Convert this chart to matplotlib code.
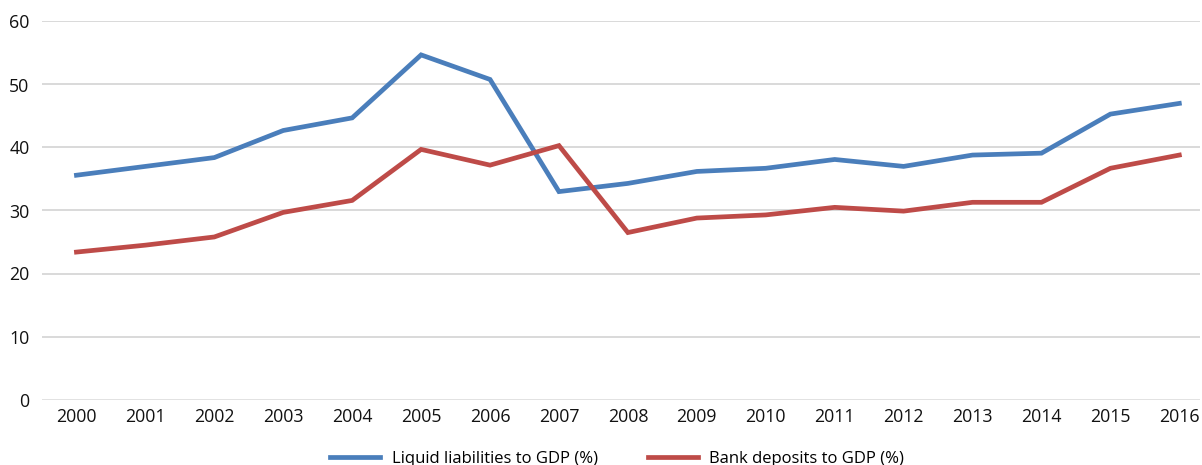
import matplotlib
matplotlib.use("Agg")
import matplotlib.pyplot as plt

years = [str(y) for y in range(2000, 2017)]
liquid = [35.6, 37.0, 38.4, 42.7, 44.7, 54.7, 50.8, 33.0, 34.3, 36.2, 36.7, 38.1, 37.0, 38.8, 39.1, 45.3, 47.0]
deposits = [23.4, 24.5, 25.8, 29.7, 31.6, 39.7, 37.2, 40.3, 26.5, 28.8, 29.3, 30.5, 29.9, 31.3, 31.3, 36.7, 38.8]
yticks = [0, 10, 20, 30, 40, 50, 60]

plt.rcParams['font.family'] = ['Open Sans', 'DejaVu Sans']

fig = plt.figure(figsize=(12.02, 4.65), dpi=100)
ax = fig.add_axes([42/1202, (465-399.5)/465, (1200-42)/1202, (399.5-21.5)/465])

x = list(range(len(years)))
l1, = ax.plot(x, liquid, color='#4A7EBB', lw=3.4, solid_joinstyle='miter', label='Liquid liabilities to GDP (%)')
l2, = ax.plot(x, deposits, color='#BE4B48', lw=3.4, solid_joinstyle='miter', label='Bank deposits to GDP (%)')

ax.set_ylim(0, 60)
ax.set_xlim(-0.5, 16.3)
ax.set_yticks(yticks)
ax.set_xticks(x)
ax.set_xticklabels(years)
ax.tick_params(axis='both', length=0, labelsize=12.8, colors='#111111')
ax.tick_params(axis='y', pad=9)
ax.tick_params(axis='x', pad=6)
for yv in yticks:
    ax.axhline(yv, color='#D9D9D9', lw=1.8 if yv == 0 else 1.4, zorder=0)
for s in ax.spines.values():
    s.set_visible(False)

fig.legend(handles=[l1, l2], loc='center', bbox_to_anchor=(617/1202, 1 - 459/465),
           ncol=2, frameon=False, fontsize=12, handlelength=3.0, columnspacing=3.0,
           handletextpad=0.7)

fig.savefig('out.png', dpi=100)
